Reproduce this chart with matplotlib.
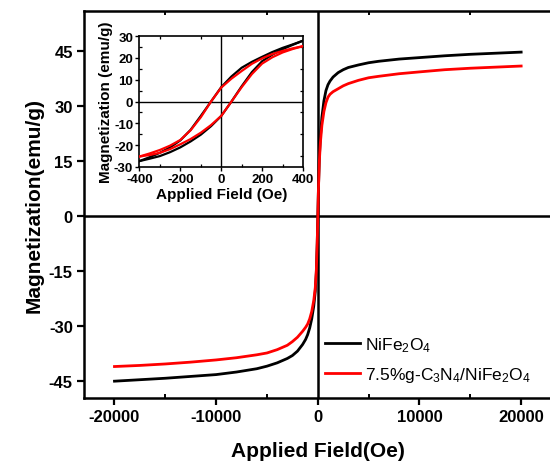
import matplotlib
matplotlib.use("Agg")
import matplotlib.pyplot as plt
from matplotlib.ticker import MultipleLocator

plt.rcParams['font.family'] = ['Liberation Sans', 'DejaVu Sans']
plt.rcParams['mathtext.fontset'] = 'custom'
plt.rcParams['mathtext.rm'] = 'Liberation Sans'
plt.rcParams['mathtext.it'] = 'Liberation Sans'
plt.rcParams['axes.unicode_minus'] = False

# ---------------- main loop data ----------------
H_main = [-20000, -17500, -15000, -12500, -10000, -8000, -6000, -5000, -4000, -3000,
          -2500, -2000, -1500, -1200, -1000, -800, -600, -400, -250, -150, -60, 0,
          60, 150, 250, 400, 600, 800, 1000, 1200, 1500, 2000, 2500, 3000,
          4000, 5000, 6000, 8000, 10000, 12500, 15000, 17500, 20000]
M_nife = [-45.0, -44.6, -44.2, -43.7, -43.2, -42.5, -41.6, -40.9, -40.0, -38.8,
          -38.0, -36.8, -35.0, -33.6, -32.3, -30.5, -28.0, -24.5, -20.5, -15.5, -7.5, 0.0,
          7.5, 16.0, 21.5, 27.0, 31.5, 34.3, 35.9, 36.9, 38.0, 39.2, 40.0, 40.6,
          41.3, 41.9, 42.3, 42.9, 43.3, 43.8, 44.2, 44.5, 44.8]
M_comp = [-41.0, -40.7, -40.3, -39.8, -39.2, -38.6, -37.8, -37.3, -36.4, -35.2,
          -34.2, -33.0, -31.4, -30.3, -29.4, -28.0, -26.0, -23.0, -19.5, -15.0, -7.2, 0.0,
          7.2, 15.0, 20.0, 24.8, 28.6, 31.0, 32.5, 33.3, 34.0, 34.8, 35.6, 36.2,
          37.1, 37.8, 38.2, 38.9, 39.4, 40.0, 40.4, 40.7, 41.0]

# ---------------- inset loop data ----------------
H_down = [400, 350, 300, 250, 200, 150, 100, 50, 0, -50, -100, -150, -200, -250, -300, -350, -400]
H_up = [-400, -350, -300, -250, -200, -150, -100, -50, 0, 50, 100, 150, 200, 250, 300, 350, 400]
nife_down = [27.9, 26.2, 24.6, 22.7, 20.5, 18.2, 15.5, 11.5, 6.6, 0.0, -6.6, -13.0, -17.8, -21.0, -23.5, -25.5, -27.3]
nife_up = [-27.3, -26.2, -25.0, -23.2, -21.0, -18.3, -15.2, -11.3, -6.6, 0.0, 7.0, 13.5, 18.5, 21.5, 24.0, 26.0, 27.9]
comp_down = [25.4, 24.4, 23.2, 21.8, 19.8, 17.3, 14.0, 10.5, 6.4, 0.0, -7.2, -13.2, -17.6, -20.2, -22.2, -23.8, -25.2]
comp_up = [-25.2, -24.5, -23.5, -21.8, -19.6, -17.2, -14.3, -10.8, -6.6, 0.0, 6.6, 12.6, 17.4, 20.3, 22.5, 24.1, 25.4]

labels = ['NiFe$_2$O$_4$', '7.5%g-C$_3$N$_4$/NiFe$_2$O$_4$']
colors = ['black', 'red']

fig = plt.figure(figsize=(5.5, 4.64), dpi=100)
ax = fig.add_axes([0.1527, 0.140, 0.8503, 0.834])

ax.axhline(0, color='black', lw=1.8, zorder=1)
ax.axvline(0, color='black', lw=1.8, zorder=1)
ax.plot(H_main, M_nife, color=colors[0], lw=2, label=labels[0], zorder=3)
ax.plot(H_main, M_comp, color=colors[1], lw=2, label=labels[1], zorder=3)

ax.set_xlim(-23000, 23000)
ax.set_ylim(-49.6, 56)
ax.xaxis.set_major_locator(MultipleLocator(10000))
ax.xaxis.set_minor_locator(MultipleLocator(5000))
ax.yaxis.set_major_locator(MultipleLocator(15))
ax.tick_params(axis='both', which='major', direction='out', length=5, width=1.6,
               labelsize=12, pad=3)
ax.tick_params(axis='x', which='minor', direction='out', length=3, width=1.4)
ax.tick_params(axis='x', which='minor', top=True, direction='in', length=3)
for lab in ax.get_xticklabels() + ax.get_yticklabels():
    lab.set_fontweight('bold')
for s in ax.spines.values():
    s.set_linewidth(1.8)

ax.set_xlabel('Applied Field(Oe)', fontsize=15, fontweight='bold', labelpad=12)
ax.set_ylabel('Magnetization(emu/g)', fontsize=15, fontweight='bold', labelpad=4)

leg = ax.legend(loc='upper left', bbox_to_anchor=(325 / 550, 1 - 336 / 464),
                bbox_transform=fig.transFigure, frameon=False,
                fontsize=12.5, handlelength=2.0, handletextpad=0.3,
                labelspacing=0.65, borderpad=0, borderaxespad=0)

# ---------------- inset ----------------
ins = fig.add_axes([0.2536, 0.638, 0.2973, 0.282])
ins.axhline(0, color='black', lw=1.0, zorder=1)
ins.axvline(0, color='black', lw=1.0, zorder=1)
ins.plot(H_down, nife_down, color=colors[0], lw=1.6, zorder=3)
ins.plot(H_up, nife_up, color=colors[0], lw=1.6, zorder=3)
ins.plot(H_down, comp_down, color=colors[1], lw=1.6, zorder=4)
ins.plot(H_up, comp_up, color=colors[1], lw=1.6, zorder=4)
ins.set_xlim(-400, 400)
ins.set_ylim(-30, 30)
ins.xaxis.set_major_locator(MultipleLocator(200))
ins.xaxis.set_minor_locator(MultipleLocator(100))
ins.yaxis.set_major_locator(MultipleLocator(10))
ins.yaxis.set_minor_locator(MultipleLocator(5))
ins.tick_params(axis='both', which='major', direction='out', length=3, width=1.0,
                labelsize=9.5, pad=1.5)
ins.tick_params(axis='both', which='minor', direction='in', length=2.5, width=0.9,
                top=True, right=True)
for lab in ins.get_xticklabels() + ins.get_yticklabels():
    lab.set_fontweight('bold')
for s in ins.spines.values():
    s.set_linewidth(1.2)
ins.set_xlabel('Applied Field (Oe)', fontsize=11, fontweight='bold', labelpad=1)
ins.set_ylabel('Magnetization (emu/g)', fontsize=11, fontweight='bold', labelpad=1)

fig.savefig('out.png', dpi=100)
